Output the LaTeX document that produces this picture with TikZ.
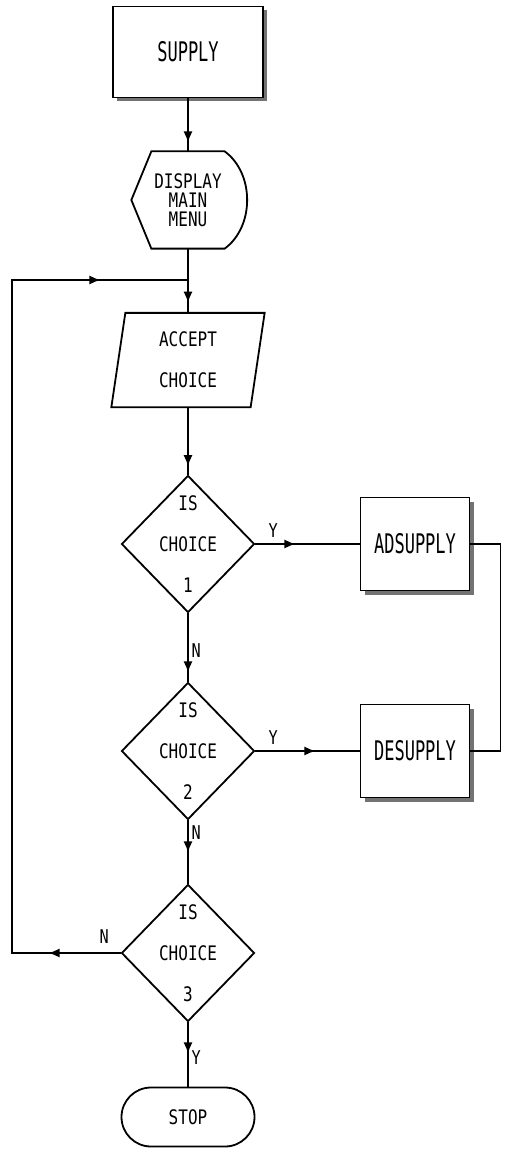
\documentclass[tikz,border=0pt]{standalone}
\usepackage{fontspec}
\setmonofont{DejaVu Sans Mono}
\usepackage{graphicx}
\usetikzlibrary{shapes.geometric,shapes.misc,shadows,decorations.markings,arrows.meta}
\tikzset {>=Latex}
\newcommand*{\bw}[1]{\scalebox{.63}[1]{#1}}
\newcommand*{\sw}[1]{\scalebox{.8}[1]{#1}}
\tikzset{
  box/.style={draw,line width=1.8pt,fill=white,minimum width=109,minimum height=93,
    font=\ttfamily\fontsize{27}{30}\selectfont,
    drop shadow={shadow xshift=4pt,shadow yshift=-4pt,fill=black!55,opacity=1}},
  dec/.style={diamond,draw,line width=1.8pt,minimum width=133,minimum height=137,inner sep=0pt},
  txt/.style={align=center,inner sep=0pt,font=\ttfamily\fontsize{20}{41}\selectfont},
  lbl/.style={font=\ttfamily\fontsize{19}{22}\selectfont,inner sep=3pt},
  midarr/.style={postaction={decorate,decoration={markings,
    mark=at position #1 with {\arrow{Latex[length=11pt,width=9pt]}}}}}
}
\begin{document}
\begin{tikzpicture}[x=1pt,y=-1pt,line width=1.3pt]
\useasboundingbox (0,0) rectangle (505,1150);
% main column
\node[box,minimum width=150,minimum height=91] (supply) at (188,52) {\bw{SUPPLY}};
\node[txt,minimum width=72,minimum height=96,font=\ttfamily\fontsize{20}{19}\selectfont] (disp) at (188,200)
  {\sw{DISPLAY}\\\sw{MAIN}\\\sw{MENU}};
\draw[line width=1.8pt] (disp.north west) -- (disp.north east)
  .. controls +(30,22) and +(30,-22) .. (disp.south east) -- (disp.south west)
  -- ([xshift=-20pt]disp.west) -- cycle;
\node[txt,minimum width=138,minimum height=93] (acc) at (188,360) {\sw{ACCEPT}\\\sw{CHOICE}};
\draw[line width=1.8pt] ([xshift=7pt]acc.north west) -- ([xshift=7pt]acc.north east)
  -- ([xshift=-7pt]acc.south east) -- ([xshift=-7pt]acc.south west) -- cycle;
\node[dec] (d1) at (188,544) {};
\node[txt] (q1) at (d1) {\sw{IS}\\\sw{CHOICE}\\\sw{1}};
\node[dec] (d2) at (188,751) {};
\node[txt] (q2) at (d2) {\sw{IS}\\\sw{CHOICE}\\\sw{2}};
\node[dec] (d3) at (188,953) {};
\node[txt] (q3) at (d3) {\sw{IS}\\\sw{CHOICE}\\\sw{3}};
\node[txt,draw,rounded rectangle,line width=1.8pt,minimum width=133,minimum height=59] (stop) at (188,1117) {\sw{STOP}};
% right column
\node[box] (ads) at (415,544) {\bw{ADSUPPLY}};
\node[box] (des) at (415,751) {\bw{DESUPPLY}};
% connectors
\draw[midarr=44pt] (supply) -- (disp);
\draw[midarr=54pt] (disp) -- (acc);
\draw[midarr=59pt] (acc) -- (d1);
\draw[midarr=40pt] (d1) -- node[lbl,above=3pt,pos=.17] (y1) {\sw{Y}} (ads);
\draw[midarr=59pt] (d1) -- node[lbl,right,pos=.54] (n1) {\sw{N}} (d2);
\draw[midarr=60pt] (d2) -- node[lbl,above=3pt,pos=.17] (y2) {\sw{Y}} (des);
\draw[midarr=32pt] (d2) -- node[lbl,right,pos=.2] (n2) {\sw{N}} (d3);
\draw[midarr=31pt] (d3) -- node[lbl,right,pos=.54] (y3) {\sw{Y}} (stop);
\draw (ads.east) -- ++(30,0) |- (des.east);
% loop back
\coordinate (lb) at (12,953);
\coordinate (lt) at (12,280);
\coordinate (jn) at (188,280);
\draw[midarr=72pt,midarr=870pt] (d3.west) -- node[lbl,above=6pt,pos=.15] (n3) {\sw{N}} (lb) -- (lt) -- (jn);
\end{tikzpicture}
\end{document}
